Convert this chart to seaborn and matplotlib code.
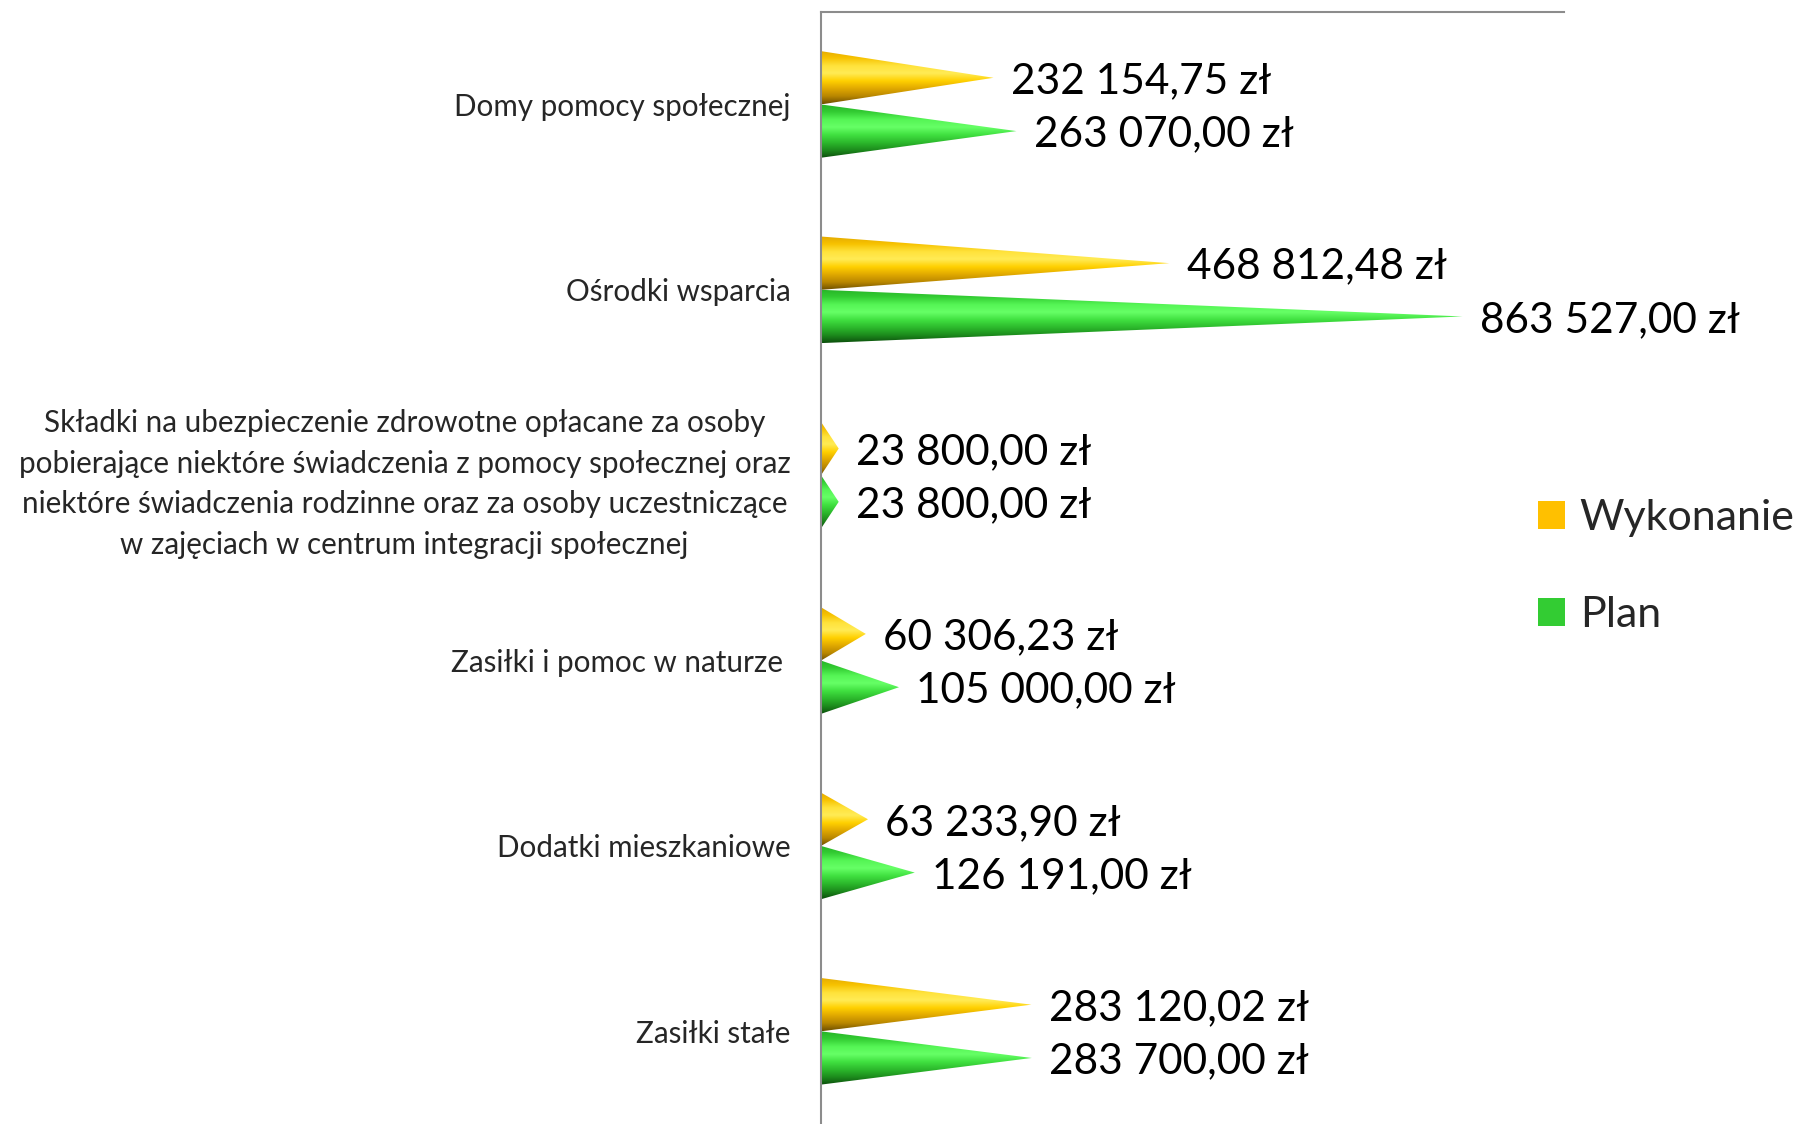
import numpy as np
import pandas as pd
import matplotlib
matplotlib.use("Agg")
import matplotlib.pyplot as plt
import seaborn as sns
from matplotlib.patches import Polygon, Patch
from matplotlib.colors import LinearSegmentedColormap, to_hex

# ---------------- data ----------------
categories = [
    "Domy pomocy społecznej",
    "Ośrodki wsparcia",
    "Składki na ubezpieczenie zdrowotne opłacane za osoby\n"
    "pobierające niektóre świadczenia z pomocy społecznej oraz\n"
    "niektóre świadczenia rodzinne oraz za osoby uczestniczące\n"
    "w zajęciach w centrum integracji społecznej",
    "Zasiłki i pomoc w naturze ",
    "Dodatki mieszkaniowe",
    "Zasiłki stałe",
]
wykonanie = [232154.75, 468812.48, 23800.00, 60306.23, 63233.90, 283120.02]
plan = [263070.00, 863527.00, 23800.00, 105000.00, 126191.00, 283700.00]
series_names = ["Wykonanie", "Plan"]
series_colors = ["#FFC000", "#33CC33"]

df = pd.DataFrame({
    "Kategoria": categories * 2,
    "Kwota": wykonanie + plan,
    "Seria": [series_names[0]] * len(categories) + [series_names[1]] * len(categories),
})

# cone shading (top -> bottom)
shade_stops = {
    "#ffc000": ["#E3A900", "#F7C200", "#FFE23A", "#FFEB55", "#FFD000", "#E0A800", "#B88600", "#6E5000"],
    "#33cc33": ["#26B326", "#33CC33", "#55F555", "#66FF66", "#40E040", "#2CB82C", "#1C8A1C", "#0C4E0C"],
}

sns.set_style("white")
plt.rcParams["font.family"] = ["Lato", "DejaVu Sans"]

W, H = 1803, 1124
fig = plt.figure(figsize=(W / 100, H / 100), dpi=100)
ax_left, ax_right, ax_top = 821, 1564, 11.75
ax = fig.add_axes([ax_left / W, 0, (ax_right - ax_left) / W, 1 - ax_top / H])

sns.barplot(data=df, y="Kategoria", x="Kwota", hue="Seria", hue_order=series_names,
            order=categories, palette=series_colors, saturation=1, orient="h", width=0.575,
            errorbar=None, legend=False, ax=ax)

bars = list(ax.patches)
for p in bars:
    x0, y0, w, h = p.get_x(), p.get_y(), p.get_width(), p.get_height()
    key = to_hex(p.get_facecolor()).lower()
    stops = shade_stops.get(key, [key, key])
    cmap = LinearSegmentedColormap.from_list("cone", stops)
    tri = Polygon([[x0, y0], [x0 + w, y0 + h / 2], [x0, y0 + h]], closed=True,
                  transform=ax.transData, facecolor="none", edgecolor="none")
    ax.add_patch(tri)
    grad = np.linspace(0, 1, 256).reshape(-1, 1)
    im = ax.imshow(grad, cmap=cmap, aspect="auto", extent=(x0, x0 + w, y0 + h, y0),
                   origin="upper", interpolation="bilinear", zorder=2)
    im.set_clip_path(tri)
    p.set_visible(False)
    txt = f"{w:,.2f}".replace(",", " ").replace(".", ",") + " zł"
    ax.annotate(txt, xy=(x0 + w, y0 + h / 2), xytext=(12.5, -2.5), textcoords="offset points",
                ha="left", va="center", fontsize=30.5, color="black", zorder=3,
                annotation_clip=False)

ax.set_xlim(0, 1_000_000)
ax.set_ylim(len(categories) - 0.5, -0.5)
ax.set_xticks([])
ax.set_xlabel("")
ax.set_ylabel("")
ax.tick_params(axis="y", length=0, pad=22, labelsize=21.3)
for lab in ax.get_yticklabels():
    lab.set_multialignment("center")
    lab.set_linespacing(1.55)

for side in ["right", "bottom"]:
    ax.spines[side].set_visible(False)
for side in ["left", "top"]:
    ax.spines[side].set_visible(True)
    ax.spines[side].set_color("#8C8C8C")
    ax.spines[side].set_linewidth(1.5)

handles = [Patch(facecolor=c, edgecolor="none") for c in series_colors]
fig.legend(handles, series_names, loc="upper left",
           bbox_to_anchor=(1538 / W, 1 - 499 / H), frameon=False, fontsize=31,
           handlelength=0.62, handleheight=0.62, handletextpad=0.35,
           labelspacing=1.38, borderpad=0, borderaxespad=0)

fig.savefig("out.png", dpi=100, facecolor="white")
